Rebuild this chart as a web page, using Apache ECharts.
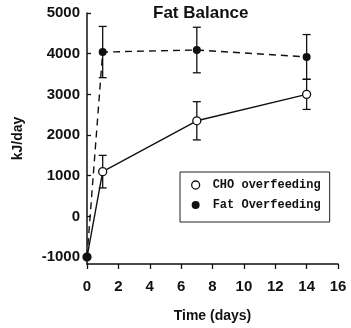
<!DOCTYPE html>
<html><head><meta charset="utf-8">
<script src="https://cdn.jsdelivr.net/npm/echarts@6/dist/echarts.min.js"></script>
<style>html,body{margin:0;padding:0;background:#fff}#c{width:351px;height:328px}</style>
</head><body><div id="c"></div>
<script>
const days = [0, 1, 7, 14];
const choMean = [-1000, 1100, 2350, 3000];
const choErr = [0, 400, 470, 370];
const fatMean = [-1000, 4040, 4090, 3920];
const fatErr = [0, 630, 560, 550];
const yTicks = [-1000, 0, 1000, 2000, 3000, 4000, 5000];
const seriesNames = ['CHO overfeeding', 'Fat Overfeeding'];

const chart = echarts.init(document.getElementById('c'), null, {renderer: 'canvas'});
const font = '"Liberation Sans", Arial, sans-serif';
const ink = '#111';

function errData(mean, err) {
  return days.map((d, i) => [d, mean[i] - err[i], mean[i] + err[i]]).filter((r, i) => err[i] > 0);
}
function errSeries(mean, err) {
  return {
    type: 'custom',
    silent: true,
    data: errData(mean, err),
    renderItem: function (params, api) {
      const x = api.value(0);
      const lo = api.coord([x, api.value(1)]);
      const hi = api.coord([x, api.value(2)]);
      const w = 4;
      const st = {stroke: ink, lineWidth: 1.3};
      return {type: 'group', children: [
        {type: 'line', shape: {x1: lo[0], y1: lo[1], x2: hi[0], y2: hi[1]}, style: st},
        {type: 'line', shape: {x1: lo[0] - w, y1: lo[1], x2: lo[0] + w, y2: lo[1]}, style: st},
        {type: 'line', shape: {x1: hi[0] - w, y1: hi[1], x2: hi[0] + w, y2: hi[1]}, style: st}
      ]};
    },
    z: 1
  };
}

chart.setOption({
  animation: false,
  title: {
    text: 'Fat Balance', left: 148, top: 0,
    textStyle: {fontFamily: font, fontWeight: 'bold', fontSize: 17, color: ink}
  },
  grid: {left: 87, right: 13, top: 13, bottom: 62, containLabel: false},
  legend: {
    orient: 'vertical', left: 180, top: 172,
    backgroundColor: '#fff',
    borderColor: '#222', borderWidth: 1,
    padding: [7, 9, 11, 11],
    itemGap: 8, itemWidth: 8, itemHeight: 8,
    textStyle: {fontFamily: '"Liberation Mono", "DejaVu Sans Mono", monospace', fontWeight: 'bold', fontSize: 12, color: ink, padding: [0, 0, 0, 8]},
    data: [
      {name: seriesNames[0], icon: 'circle', itemStyle: {color: '#fff', borderColor: ink, borderWidth: 1.3}},
      {name: seriesNames[1], icon: 'circle', itemStyle: {color: ink, borderWidth: 0}}
    ]
  },
  xAxis: {
    type: 'value', min: 0, max: 16, interval: 2,
    name: 'Time (days)', nameLocation: 'middle', nameGap: 45,
    nameTextStyle: {fontFamily: font, fontWeight: 'bold', fontSize: 14, color: ink},
    axisLine: {onZero: false, lineStyle: {color: ink, width: 1.5}},
    axisTick: {inside: false, length: 5, lineStyle: {color: ink, width: 1.3}},
    axisLabel: {fontFamily: font, fontWeight: 'bold', fontSize: 15, color: ink, margin: 15},
    splitLine: {show: false}
  },
  yAxis: {
    type: 'value', min: -1170, max: 5000,
    name: 'kJ/day', nameLocation: 'middle', nameGap: 62, nameRotate: 90,
    nameTextStyle: {fontFamily: font, fontWeight: 'bold', fontSize: 14, color: ink, padding: [0, 0, 0, 0]},
    axisLine: {show: true, onZero: false, lineStyle: {color: ink, width: 1.5}},
    axisTick: {show: true, inside: true, length: 4, customValues: yTicks, lineStyle: {color: ink, width: 1.3}},
    axisLabel: {fontFamily: font, fontWeight: 'bold', fontSize: 15, color: ink, margin: 7, customValues: yTicks,
      formatter: v => String(v)},
    splitLine: {show: false}
  },
  series: [
    errSeries(choMean, choErr),
    errSeries(fatMean, fatErr),
    {
      name: seriesNames[0], type: 'line',
      data: days.map((d, i) => [d, choMean[i]]),
      symbol: 'circle', symbolSize: 8,
      lineStyle: {color: ink, width: 1.4, type: 'solid'},
      itemStyle: {color: '#fff', borderColor: ink, borderWidth: 1.3},
      z: 3
    },
    {
      name: seriesNames[1], type: 'line',
      data: days.map((d, i) => [d, fatMean[i]]),
      symbol: 'circle', symbolSize: 8,
      lineStyle: {color: ink, width: 1.4, type: [7, 5]},
      itemStyle: {color: ink, borderWidth: 0},
      z: 4
    }
  ]
});
</script></body></html>
